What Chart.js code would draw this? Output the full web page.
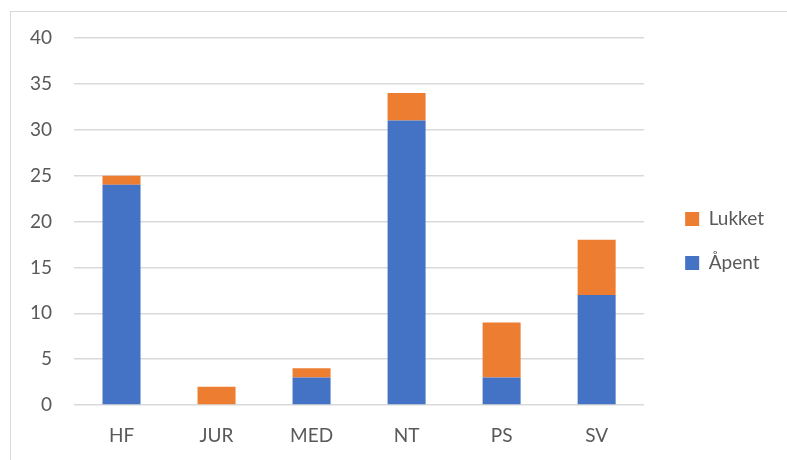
<!DOCTYPE html>
<html>
<head>
<meta charset="utf-8">
<script src="https://cdn.jsdelivr.net/npm/chart.js@4"></script>
<style>
    html, body { margin: 0; padding: 0; background: #fff; }
    #ramme {
        position: absolute; left: 10px; top: 11px; width: 800px; height: 470px;
        border: 1px solid #d9d9d9; box-sizing: border-box;
    }
    #wrap { position: absolute; left: 0; top: 0; width: 787px; height: 460px; }
</style>
</head>
<body>
<div id="ramme"></div>
<div id="wrap"><canvas id="stolper"></canvas></div>
<script>
// data lest av figuren
var fakulteter = ['HF', 'JUR', 'MED', 'NT', 'PS', 'SV'];
var aapent = [24, 0, 3, 31, 3, 12];
var lukket = [1, 2, 1, 3, 6, 6];
var yTicks = [0, 5, 10, 15, 20, 25, 30, 35, 40];

document.addEventListener('DOMContentLoaded', tegnStolper);

// flytter legenden litt, slik som i Excel-figuren
var flyttLegende = {
    id: 'flyttLegende',
    beforeInit: function (chart) {
        var fit = chart.legend.fit;
        chart.legend.fit = function () {
            fit.call(this);
            this.width += 9;
        };
    },
    afterLayout: function (chart) {
        var l = chart.legend;
        l.left += 16;
        l.top -= 8;
        l.bottom -= 8;
    }
};

function tegnStolper() {
    var tekstFarge = '#595959';
    var font = { family: 'Lato, "Open Sans", sans-serif', size: 19 };

    var data = {
        labels: fakulteter,
        datasets: [{
            label: 'Åpent',
            data: aapent,
            backgroundColor: '#4472C4',
            barPercentage: 0.4,
            categoryPercentage: 1
        }, {
            label: 'Lukket',
            data: lukket,
            backgroundColor: '#ED7D31',
            barPercentage: 0.4,
            categoryPercentage: 1
        }]
    };

    var options = {
        responsive: true,
        maintainAspectRatio: false,
        animation: false,
        layout: { padding: { left: 10, top: 38, right: 20, bottom: 0 } },
        plugins: {
            legend: {
                position: 'right',
                reverse: true,
                labels: {
                    color: tekstFarge,
                    font: font,
                    boxWidth: 14,
                    boxHeight: 14,
                    padding: 25
                }
            },
            tooltip: { enabled: false }
        },
        scales: {
            x: {
                stacked: true,
                afterFit: function (scale) { scale.height = 55; },
                grid: { display: false },
                border: { display: false },
                ticks: { color: tekstFarge, font: font, padding: 11 }
            },
            y: {
                stacked: true,
                min: 0,
                max: 40,
                afterBuildTicks: function (scale) {
                    scale.ticks = yTicks.map(function (v) { return { value: v }; });
                },
                afterFit: function (scale) { scale.width = 64; },
                grid: { color: '#d9d9d9', lineWidth: 1.5, drawTicks: false },
                border: { display: false },
                ticks: { color: tekstFarge, font: font, padding: 22 }
            }
        }
    };

    var ctx = document.getElementById('stolper').getContext('2d');
    new Chart(ctx, { type: 'bar', data: data, options: options, plugins: [flyttLegende] });
}
</script>
</body>
</html>
